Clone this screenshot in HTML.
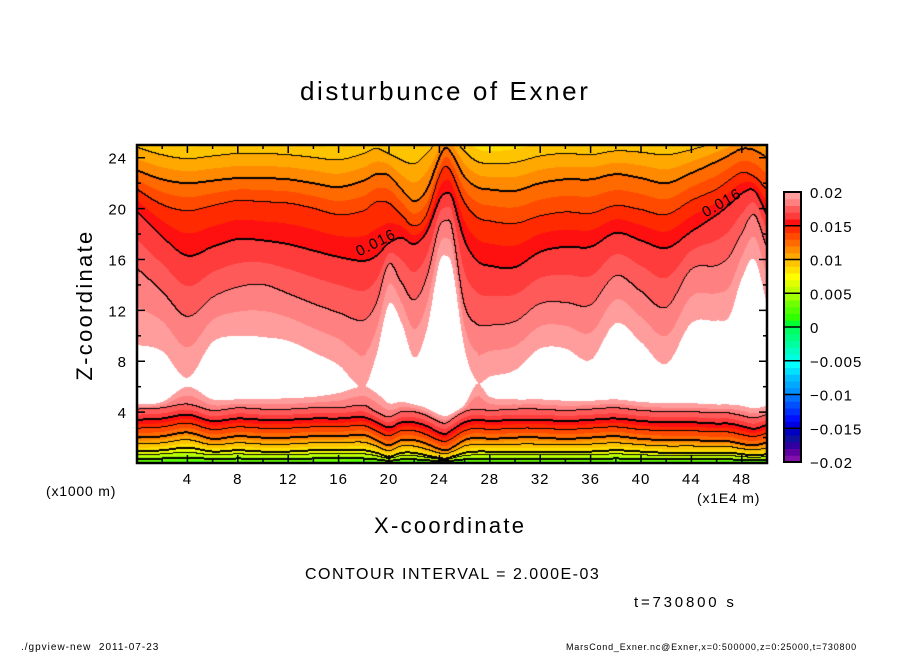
<!DOCTYPE html>
<html><head><meta charset="utf-8">
<style>
body{margin:0;background:#fff;width:904px;height:654px;overflow:hidden;position:relative;font-family:"Liberation Sans",sans-serif;}
.t{position:absolute;white-space:nowrap;color:#000;}
#plot{position:absolute;left:137px;top:145px;}
svg{position:absolute;left:0;top:0;}
</style></head>
<body>
<div class="t" style="left:300px;top:76px;font-size:26px;letter-spacing:2.6px;">disturbunce of Exner</div>
<canvas id="plot" width="630" height="318"></canvas>
<svg id="ov" width="904" height="654"></svg>
<div class="t" style="left:374px;top:513px;font-size:22px;letter-spacing:2.3px;">X-coordinate</div>
<div class="t" style="left:-15px;top:292px;font-size:22px;letter-spacing:2.3px;transform:rotate(-90deg);width:200px;text-align:center;">Z-coordinate</div>
<div class="t" style="left:46px;top:483px;font-size:14px;letter-spacing:0.8px;">(x1000 m)</div>
<div class="t" style="left:697px;top:490px;font-size:14px;letter-spacing:0.8px;">(x1E4 m)</div>
<div class="t" style="left:305px;top:566px;font-size:16px;letter-spacing:1.5px;">CONTOUR INTERVAL = 2.000E-03</div>
<div class="t" style="left:634px;top:594px;font-size:15px;letter-spacing:2.8px;">t=730800 s</div>
<div class="t" style="left:21px;top:642px;font-size:10px;letter-spacing:1px;">./gpview-new &nbsp;2011-07-23</div>
<div class="t" style="left:566px;top:642px;font-size:9px;letter-spacing:0.8px;">MarsCond_Exner.nc@Exner,x=0:500000,z=0:25000,t=730800</div>
<script>
const cols=[0,2,4,6,8,10,12,14,16,18,19,20,21,22,23,24,24.5,25,26,27,28,30,32,34,36,38,40,42,44,46,47,48,49,50];
const z10=[24.8,24.2,23.9,24.1,24.3,24.3,24.2,24.0,23.8,24.3,24.7,24.3,23.8,23.5,24.3,25.5,26,25.8,24.5,23.7,23.5,23.6,24.1,24.3,24.2,24.5,24.4,24.2,24.6,25.2,25.5,25.8,25.6,25];
const z12=[23,22.3,22,22.2,22.4,22.4,22.3,22.0,21.7,22.2,22.7,22.6,21.5,20.6,21.5,24,24.8,24.3,22.5,21.7,21.5,21.4,22.0,22.3,22.3,22.7,22.4,22.0,22.8,23.7,24.2,24.7,24.6,24];
const z14=[21.5,20.3,19.8,20.2,20.6,20.5,20.4,20.0,19.5,19.8,20.5,20.4,19.5,18.6,19.5,22.5,23.3,22.8,20.5,19.3,19.0,18.8,19.4,19.7,19.6,20.2,19.9,19.5,20.6,21.5,22.2,22.8,22.5,21.5];
const z16=[19.8,17.8,16.3,17.0,17.6,17.5,17.2,16.7,16.2,15.9,16.3,17.3,17.7,17.2,18.2,20.7,21.2,20.9,17.5,15.9,15.5,15.4,16.6,17.0,17.0,18.1,17.5,16.9,18.2,19.5,20.3,21.2,21.4,19.5];
const z18=[15.3,13.5,11.5,13.0,13.8,14.0,13.3,12.5,11.8,11.2,12.5,15.6,14.2,12.8,14.5,18.5,19,18.6,12.5,10.9,10.8,11.1,12.5,12.6,12.4,14.7,13.5,12.2,15.2,15.5,16.2,18.0,19.5,17];
const zW=[9.3,8.8,6.7,9.5,10.0,9.9,9.6,8.7,7.7,6.0,8.5,12.5,11,8.3,10.5,15.8,16.3,15.5,9,6.4,6.8,7.3,9.0,9.0,8.1,11.0,9.5,7.8,11,11.2,11.5,14.5,16.0,12.5];
const zWL=[4.6,4.8,6.0,5.0,5.0,5.0,5.1,5.2,5.5,6.0,5.5,4.7,4.8,4.6,4.3,3.8,3.7,3.9,4.6,6.2,5.2,5.0,5.0,4.9,4.9,5.0,4.8,4.7,4.7,4.6,4.6,4.5,4.3,4.5];
const zL18=[4.2,4.3,4.6,4.1,4.3,4.2,4.2,4.3,4.3,4.5,4.0,3.6,4.0,4.0,3.7,3.2,3.1,3.4,4.0,4.2,4.1,4.2,4.2,4.1,4.2,4.3,4.1,4.0,4.0,3.9,3.9,3.7,3.5,3.8];
const zL16=[3.4,3.5,3.8,3.3,3.5,3.4,3.4,3.5,3.5,3.6,3.2,2.8,3.2,3.2,2.9,2.4,2.3,2.6,3.2,3.4,3.3,3.4,3.4,3.3,3.4,3.5,3.3,3.2,3.2,3.1,3.1,2.9,2.7,3.0];
const zL12=[2.0,2.1,2.4,1.9,2.1,2.0,2.0,2.1,2.1,2.2,1.8,1.4,1.8,1.8,1.5,1.1,1.0,1.2,1.8,2.0,1.9,2.0,2.0,1.9,2.0,2.1,1.9,1.8,1.8,1.7,1.7,1.5,1.4,1.6];
const zL8=[0.9,1.0,1.2,0.9,1.0,0.9,0.9,1.0,1.0,1.0,0.8,0.5,0.8,0.8,0.6,0.4,0.35,0.5,0.8,0.9,0.9,0.9,0.9,0.9,0.9,1.0,0.9,0.8,0.8,0.8,0.8,0.7,0.6,0.7];
const bottomVal=1.8; // 1e-3 units at z=0
const xTicks=[4,8,12,16,20,24,28,32,36,40,44,48];
const zTicks=[4,8,12,16,20,24];
const cbTicks=[0.02,0.015,0.01,0.005,0,-0.005,-0.01,-0.015,-0.02];
const cbLabels=["0.02","0.015","0.01","0.005","0","\u22120.005","\u22120.01","\u22120.015","\u22120.02"];
const bandColors=["#8010a8","#6000a0","#3000a0","#1010a0","#0000c0","#0000e0","#0010ff","#0030ff","#0050ff","#0070ff",
"#0090ff","#00a8ff","#00c0ff","#00e0ff","#00ffff","#00ffe0","#00ffc0","#00ffa0","#00ff80","#00ff60",
"#00ff30","#30ff00","#50ff00","#70ff00","#a0ff00","#c0ff00","#e0ff00","#ffff00","#ffe000","#ffc400",
"#ffa800","#ff8a00","#ff6a00","#ff4a00","#ff2a00","#ff1010","#ff3c3c","#ff5a5a","#ff8080","#ff9c9c"];

const X0=137,Y0=145,W=630,H=318;
const sx=x=>X0+x*W/50, sz=z=>Y0+H-z*H/25;
function col(arr,x){
  const n=cols.length;
  for(let i=0;i<n-1;i++){if(x<=cols[i+1]){
    const x0=cols[i],x1=cols[i+1],h=x1-x0,t=(x-x0)/h;
    const p0=arr[i],p1=arr[i+1];
    const m0=i>0?(arr[i+1]-arr[i-1])/(cols[i+1]-cols[i-1]):(p1-p0)/h;
    const m1=i<n-2?(arr[i+2]-arr[i])/(cols[i+2]-cols[i]):(p1-p0)/h;
    const t2=t*t,t3=t2*t;
    return (2*t3-3*t2+1)*p0+(t3-2*t2+t)*h*m0+(-2*t3+3*t2)*p1+(t3-t2)*h*m1;}}
  return arr[n-1];}
function knots(x){
  const a=col(z10,x),b=col(z12,x),w=col(zW,x),wl=col(zWL,x);
  let k=[[0,bottomVal],[col(zL8,x),8],[col(zL12,x),12],[col(zL16,x),16],[col(zL18,x),18]];
  if(w-wl>0.15){k.push([wl,20],[(w+wl)/2,21.5],[w,20]);} else {k.push([(w+wl)/2,19.9]);}
  k.push([col(z18,x),18],[col(z16,x),16],[col(z14,x),14],[b,12],[a,10]);
  return k;
}
function val(k,z){
  for(let i=0;i<k.length-1;i++){if(z<=k[i+1][0]){const d=k[i+1][0]-k[i][0];const t=d>0?(z-k[i][0])/d:0;return k[i][1]+(k[i+1][1]-k[i][1])*t;}}
  const n=k.length,s=(k[n-1][1]-k[n-2][1])/Math.max(0.3,(k[n-1][0]-k[n-2][0]));
  return k[n-1][1]+s*(z-k[n-1][0]);
}
function hex(h){return [parseInt(h.substr(1,2),16),parseInt(h.substr(3,2),16),parseInt(h.substr(5,2),16)];}
const rgb=bandColors.map(hex);
const cv=document.getElementById('plot'),ctx=cv.getContext('2d');
const img=ctx.createImageData(W,H);const V=new Float32Array(W*H);
for(let px=0;px<W;px++){const x=(px+0.5)*50/W;const k=knots(x);
  for(let py=0;py<H;py++){const z=(H-py-0.5)*25/H;V[py*W+px]=val(k,z);}}
for(let i=0;i<W*H;i++){const v=V[i];let c;
  if(v>=20)c=[255,255,255];else{let b=Math.floor(v)+20;b=Math.max(0,Math.min(39,b));c=rgb[b];}
  img.data[i*4]=c[0];img.data[i*4+1]=c[1];img.data[i*4+2]=c[2];img.data[i*4+3]=255;}
function lev(v){return Math.floor(v/2);}
const line=new Uint8Array(W*H);
for(let py=0;py<H;py++)for(let px=0;px<W;px++){const i=py*W+px,v=V[i];
  const nb=[];if(px<W-1)nb.push(i+1);if(py<H-1)nb.push(i+W);
  for(const j of nb){const a=lev(v),b=lev(V[j]);if(a!==b){const L=Math.max(a,b)*2;if(L>=4&&L<=18){line[i]=1;if(L%4===0){line[j]=1;}}}}}
for(let i=0;i<W*H;i++)if(line[i]){img.data[i*4]=0;img.data[i*4+1]=0;img.data[i*4+2]=0;}
ctx.putImageData(img,0,0);
const ns="http://www.w3.org/2000/svg",ov=document.getElementById('ov');
function mk(t,at,p){const e=document.createElementNS(ns,t);for(const k in at)e.setAttribute(k,at[k]);(p||ov).appendChild(e);return e;}
for(let x=2;x<50;x+=2){const L=x%4===0?8:4;
  const t1=mk('line',{x1:sx(x),x2:sx(x),y1:Y0+H,y2:Y0+H-L,stroke:'#000','stroke-width':1.5});
  
  const t2=mk('line',{x1:sx(x),x2:sx(x),y1:Y0,y2:Y0+L,stroke:'#000','stroke-width':1.5});
  }
for(let z=2;z<25;z+=2){const L=z%4===0?8:4;
  const t1=mk('line',{x1:X0,x2:X0+L,y1:sz(z),y2:sz(z),stroke:'#000','stroke-width':1.5});
  
  const t2=mk('line',{x1:X0+W,x2:X0+W-L,y1:sz(z),y2:sz(z),stroke:'#000','stroke-width':1.5});
  }
const fr=mk('rect',{x:X0,y:Y0,width:W,height:H,fill:'none',stroke:'#000','stroke-width':2.5});

xTicks.forEach(x=>{const t=mk('text',{x:sx(x),y:484,'text-anchor':'middle','font-size':15,'letter-spacing':1,'font-family':'Liberation Sans, sans-serif'});t.textContent=x;
  });
zTicks.forEach(z=>{const t=mk('text',{x:127,y:sz(z)+6,'text-anchor':'end','font-size':15,'letter-spacing':1,'font-family':'Liberation Sans, sans-serif'});t.textContent=z;
  });
[[378,247,-27],[724,207,-30]].forEach(p=>{const t=mk('text',{x:p[0],y:p[1],'text-anchor':'middle','font-size':15,'letter-spacing':1,'font-family':'Liberation Sans, sans-serif',transform:`rotate(${p[2]} ${p[0]} ${p[1]})`});t.textContent='0.016';
  });
const CX=784,CW=17,CT=192,CB=462;const cy=v=>CB-(v+0.02)/0.04*(CB-CT);
bandColors.forEach((c,i)=>{const v=-0.02+i*0.001;const r=mk('rect',{x:CX,y:cy(v+0.001),width:CW,height:cy(v)-cy(v+0.001)+0.5,fill:c});
  });
cbTicks.forEach((v,i)=>{const l=mk('line',{x1:CX,x2:CX+CW,y1:cy(v),y2:cy(v),stroke:'#000','stroke-width':1.5});
  
  const t=mk('text',{x:810,y:cy(v)+6,'font-size':15,'letter-spacing':1,'font-family':'Liberation Sans, sans-serif'});t.textContent=cbLabels[i];
  });
const cf=mk('rect',{x:CX,y:CT,width:CW,height:CB-CT,fill:'none',stroke:'#000','stroke-width':2});

</script>
</body></html>
